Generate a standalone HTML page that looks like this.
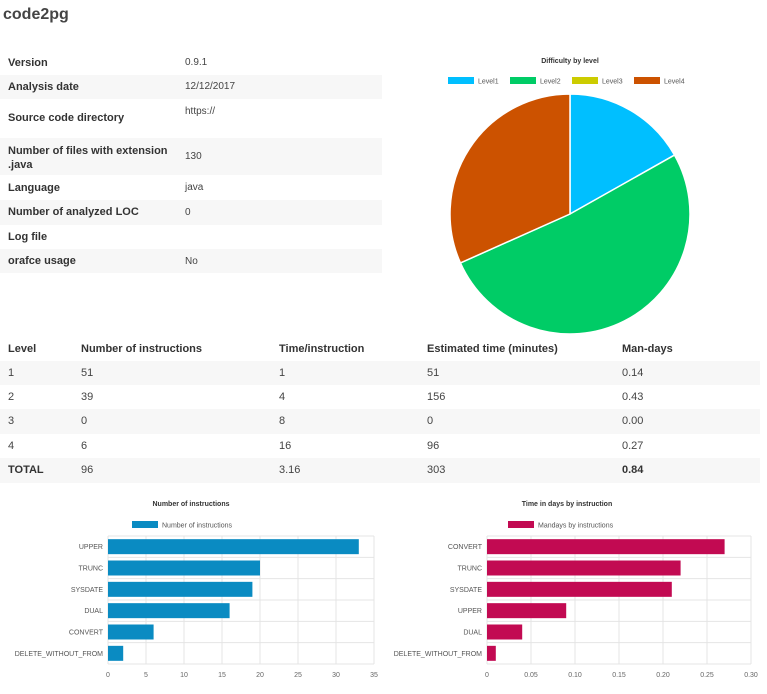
<!DOCTYPE html>
<html><head><meta charset="utf-8"><style>
body{margin:0;width:767px;height:694px;background:#fff;font-family:"Liberation Sans",sans-serif;color:#333;position:relative;overflow:hidden}
.abs{position:absolute}
.row{position:absolute;left:0;font-size:11px}
.row.s{background:#f7f7f7}
.k{position:absolute;left:8px;font-weight:bold;font-size:11px;color:#333}
.v{position:absolute;left:185px;font-size:10px;color:#444}
.lt{position:absolute;font-size:11px;color:#444}
.lt.b{font-weight:bold;color:#333}
svg text{font-family:"Liberation Sans",sans-serif}
</style></head><body>
<div class="abs" style="left:3px;top:6px;font-size:16px;font-weight:bold;color:#444">code2pg</div>

<div>
<div class="row" style="top:50px;height:25px;width:382px"><span class="k" style="top:7px">Version</span><span class="v" style="top:7px">0.9.1</span></div>
<div class="row s" style="top:75px;height:24px;width:382px"><span class="k" style="top:6px">Analysis date</span><span class="v" style="top:6px">12/12/2017</span></div>
<div class="row" style="top:99px;height:39px;width:382px"><span class="k" style="top:13px">Source code directory</span><span class="v" style="top:7px">https://</span></div>
<div class="row s" style="top:138px;height:37px;width:382px"><span class="k" style="top:6px;line-height:14px">Number of files with extension<br>.java</span><span class="v" style="top:13px">130</span></div>
<div class="row" style="top:175px;height:25px;width:382px"><span class="k" style="top:7px">Language</span><span class="v" style="top:7px">java</span></div>
<div class="row s" style="top:200px;height:25px;width:382px"><span class="k" style="top:6px">Number of analyzed LOC</span><span class="v" style="top:7px">0</span></div>
<div class="row" style="top:225px;height:24px;width:382px"><span class="k" style="top:6px">Log file</span></div>
<div class="row s" style="top:249px;height:24px;width:382px"><span class="k" style="top:6px">orafce usage</span><span class="v" style="top:7px">No</span></div>
</div>

<div>
<div class="row" style="top:337px;height:24px;width:760px">
<span class="lt b" style="left:8px;top:6px">Level</span><span class="lt b" style="left:81px;top:6px">Number of instructions</span><span class="lt b" style="left:279px;top:6px">Time/instruction</span><span class="lt b" style="left:427px;top:6px">Estimated time (minutes)</span><span class="lt b" style="left:622px;top:6px">Man-days</span></div>
<div class="row s" style="top:361px;height:24px;width:760px">
<span class="lt" style="left:8px;top:6px">1</span><span class="lt" style="left:81px;top:6px">51</span><span class="lt" style="left:279px;top:6px">1</span><span class="lt" style="left:427px;top:6px">51</span><span class="lt" style="left:622px;top:6px">0.14</span></div>
<div class="row" style="top:385px;height:24px;width:760px">
<span class="lt" style="left:8px;top:6px">2</span><span class="lt" style="left:81px;top:6px">39</span><span class="lt" style="left:279px;top:6px">4</span><span class="lt" style="left:427px;top:6px">156</span><span class="lt" style="left:622px;top:6px">0.43</span></div>
<div class="row s" style="top:409px;height:25px;width:760px">
<span class="lt" style="left:8px;top:6px">3</span><span class="lt" style="left:81px;top:6px">0</span><span class="lt" style="left:279px;top:6px">8</span><span class="lt" style="left:427px;top:6px">0</span><span class="lt" style="left:622px;top:6px">0.00</span></div>
<div class="row" style="top:434px;height:24px;width:760px">
<span class="lt" style="left:8px;top:6px">4</span><span class="lt" style="left:81px;top:6px">6</span><span class="lt" style="left:279px;top:6px">16</span><span class="lt" style="left:427px;top:6px">96</span><span class="lt" style="left:622px;top:6px">0.27</span></div>
<div class="row s" style="top:458px;height:25px;width:760px">
<span class="lt b" style="left:8px;top:6px">TOTAL</span><span class="lt" style="left:81px;top:6px">96</span><span class="lt" style="left:279px;top:6px">3.16</span><span class="lt" style="left:427px;top:6px">303</span><span class="lt b" style="left:622px;top:6px">0.84</span></div>
</div>

<svg id="pie" class="abs" style="left:0;top:0" width="767" height="694"></svg>

<script>
const pieLabels=["Level1","Level2","Level3","Level4"];
const pieValues=[51,156,0,96];
const pieColors=["#00bfff","#00cc66","#cccc00","#cc5200"];
const leftCats=["UPPER","TRUNC","SYSDATE","DUAL","CONVERT","DELETE_WITHOUT_FROM"];
const leftVals=[33,20,19,16,6,2];
const leftTicks=[0,5,10,15,20,25,30,35];
const rightCats=["CONVERT","TRUNC","SYSDATE","UPPER","DUAL","DELETE_WITHOUT_FROM"];
const rightVals=[0.27,0.22,0.21,0.09,0.04,0.01];
const rightTicks=["0","0.05","0.10","0.15","0.20","0.25","0.30"];

const svg=document.getElementById('pie');
const NS="http://www.w3.org/2000/svg";
function mk(t,a,txt){const e=document.createElementNS(NS,t);for(const k in a)e.setAttribute(k,a[k]);if(txt!==undefined)e.textContent=txt;svg.appendChild(e);return e;}

// pie
let t=mk('text',{x:570,y:63,'font-size':7,'font-weight':'bold','text-anchor':'middle',fill:'#333'},'Difficulty by level');


const legX=[448,510,572,634];
pieLabels.forEach((l,i)=>{
  let r=mk('rect',{x:legX[i],y:77,width:26,height:7,fill:pieColors[i]});
  
  
  let tx=mk('text',{x:legX[i]+30,y:83.5,'font-size':7,fill:'#555'},l);
  
  
});
const cx=570,cy=214,R=120;
const total=pieValues.reduce((a,b)=>a+b,0);
let ang=0;
pieValues.forEach((v,i)=>{
  if(v<=0)return;
  const a0=ang,a1=ang+v/total*2*Math.PI;ang=a1;
  const x0=cx+R*Math.sin(a0),y0=cy-R*Math.cos(a0),x1=cx+R*Math.sin(a1),y1=cy-R*Math.cos(a1);
  const large=(a1-a0)>Math.PI?1:0;
  let p=mk('path',{d:`M${cx},${cy}L${x0},${y0}A${R},${R} 0 ${large} 1 ${x1},${y1}Z`,fill:pieColors[i],stroke:'#fff','stroke-width':1.5});
  
  
});

function bar(opt){
  const {cats,vals,ticks,maxV,x0,x1,top,bottom,color,title,legend,titleX,key}=opt;
  const sx=v=>x0+(v/maxV)*(x1-x0);
  const band=(bottom-top)/cats.length;
  let tt=mk('text',{x:titleX,y:506,'font-size':7,'font-weight':'bold','text-anchor':'middle',fill:'#333'},title);
  
  
  let lr=mk('rect',{x:titleX-59,y:521,width:26,height:7,fill:color});
  
  
  let lt=mk('text',{x:titleX-29,y:527.5,'font-size':7,fill:'#555'},legend);
  
  
  ticks.forEach((tk,i)=>{
    const v=parseFloat(tk);const x=sx(v);
    let g=mk('line',{x1:x,y1:top,x2:x,y2:bottom,stroke:'#e4e4e4','stroke-width':1});
    
    
    let l=mk('text',{x:x,y:677,'font-size':7,'text-anchor':'middle',fill:'#666'},tk);
    
    
  });
  for(let i=0;i<=cats.length;i++){
    let g=mk('line',{x1:x0,y1:top+i*band,x2:x1,y2:top+i*band,stroke:'#e4e4e4','stroke-width':1});
    
    
  }
  cats.forEach((c,i)=>{
    const yc=top+band*(i+0.5);
    let r=mk('rect',{x:x0,y:yc-7.5,width:sx(vals[i])-x0,height:15,fill:color});
    
    
    let l=mk('text',{x:x0-5,y:yc+2.5,'font-size':7,'text-anchor':'end',fill:'#555'},c);
    
    
  });
}
bar({cats:leftCats,vals:leftVals,ticks:leftTicks.map(String),maxV:35,x0:108,x1:374,top:536,bottom:664,color:'#0a8bc2',title:'Number of instructions',legend:'Number of instructions',titleX:191,key:'instructions-chart'});
bar({cats:rightCats,vals:rightVals,ticks:rightTicks,maxV:0.30,x0:487,x1:751,top:536,bottom:664,color:'#c20a52',title:'Time in days by instruction',legend:'Mandays by instructions',titleX:567,key:'time-chart'});
</script>
</body></html>
